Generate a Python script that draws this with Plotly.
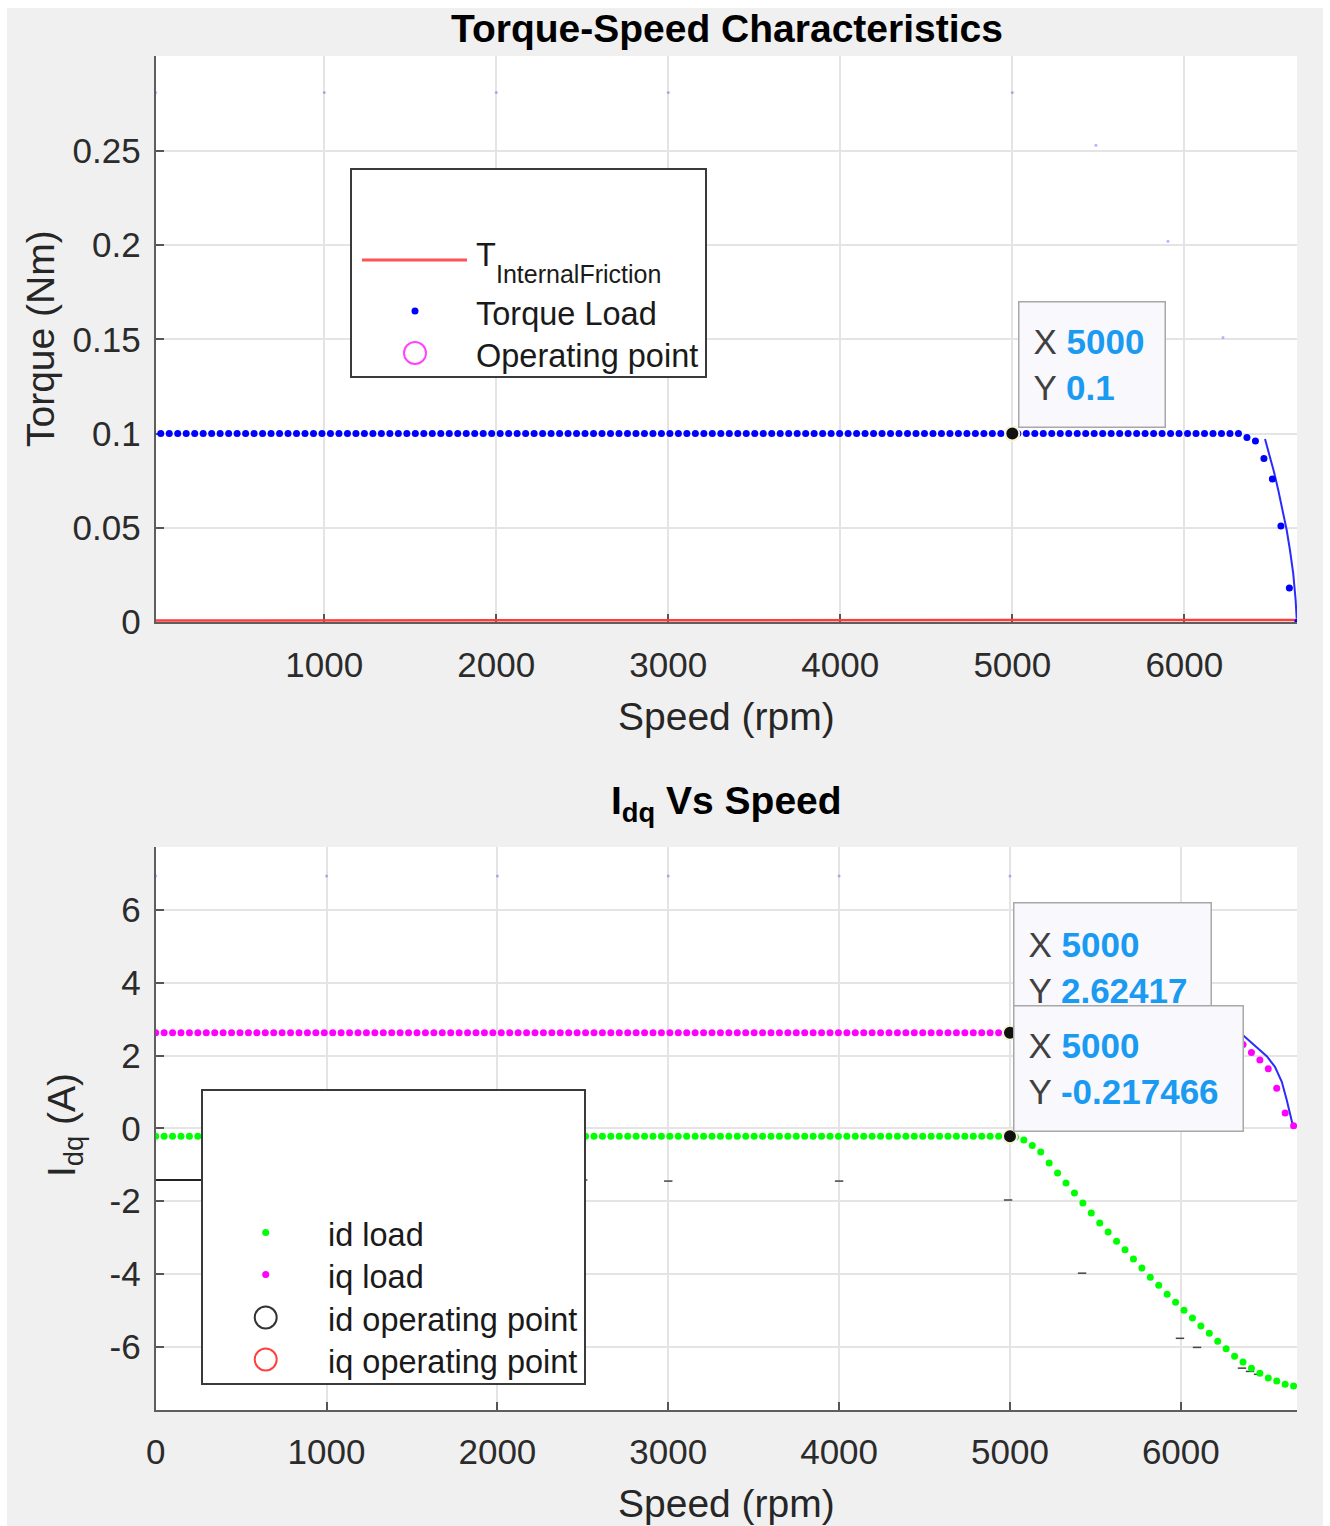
import numpy as np
import plotly.graph_objects as go

W, H = 1330, 1526
FONT = "Liberation Sans, Arial, Helvetica, sans-serif"

# ---------------- data ----------------
# speed sweep shared by both subplots (rpm)
speed_rpm = np.linspace(0, 6660, 136)

# torque-speed characteristics
torque_load = [0.1] * 129 + [0.0979, 0.0960, 0.0868, 0.0759, 0.0510, 0.0180, 0.0]
friction_rpm = [20, 6655]
friction_torque = [0.0008, 0.0011]
torque_env_rpm = [6469, 6492, 6521, 6546, 6571, 6595, 6614, 6633, 6647, 6653]
torque_env = [0.0971, 0.0895, 0.0797, 0.0700, 0.0594, 0.0488, 0.0382, 0.0258, 0.0117, 0.002]
torque_trace_rpm = [20, 1000, 2000, 3000, 5000, 5486, 5905, 6225]
torque_trace = [0.281, 0.281, 0.281, 0.281, 0.281, 0.253, 0.202, 0.151]
op_speed = 5000
op_torque = 0.1

# dq currents vs speed
iq_load = [2.62417] * 129 + [2.30, 2.08, 1.88, 1.64, 1.10, 0.42, 0.07]
id_load = ([-0.217466] * 102 + [-0.24, -0.32, -0.47]
           + [-0.65, -0.95, -1.23, -1.50, -1.78, -2.05, -2.33, -2.60, -2.85, -3.10,
              -3.34, -3.59, -3.84, -4.09, -4.31, -4.56, -4.78, -5.00, -5.21, -5.43,
              -5.63, -5.85, -6.06, -6.26, -6.42, -6.59, -6.73, -6.86, -6.94, -7.03,
              -7.08])
iq_env_rpm = [6366, 6450, 6503, 6551, 6591, 6620, 6643, 6655]
iq_env = [2.55, 2.20, 1.98, 1.69, 1.28, 0.78, 0.32, 0.09]
id_lim_rpm = [0, 2480]
id_lim = [-1.42, -1.42]
id_trace_rpm = [2502, 3000, 4000, 4989, 5422, 5995, 6095, 6358, 6405, 6452]
id_trace = [-1.42, -1.45, -1.45, -1.97, -3.98, -5.77, -6.02, -6.59, -6.68, -6.76]
iq_trace_rpm = [0, 1000, 2000, 3000, 4000, 5000]
iq_trace = [6.93, 6.93, 6.93, 6.93, 6.93, 6.93]
op_iq = 2.62417
op_id = -0.217466

x_ticks_top = [1000, 2000, 3000, 4000, 5000, 6000]
x_ticks_bot = [0, 1000, 2000, 3000, 4000, 5000, 6000]
y_ticks_top = [0, 0.05, 0.1, 0.15, 0.2, 0.25]
y_labels_top = ["0", "0.05", "0.1", "0.15", "0.2", "0.25"]
y_ticks_bot = [-6, -4, -2, 0, 2, 4, 6]
y_labels_bot = ["-6", "-4", "-2", "0", "2", "4", "6"]


def px(xp):
    return xp / W


def py(yp):
    return 1 - yp / H


fig = go.Figure()

# ---------------- top subplot ----------------
fig.add_trace(go.Scatter(x=friction_rpm, y=friction_torque, mode="lines",
                         line=dict(color="#ff3c3c", width=2.5), xaxis="x", yaxis="y"))
fig.add_trace(go.Scatter(x=torque_trace_rpm, y=torque_trace, mode="markers",
                         marker=dict(size=3, color="rgba(90,90,255,0.45)"), xaxis="x", yaxis="y"))
fig.add_trace(go.Scatter(x=torque_env_rpm, y=torque_env, mode="lines",
                         line=dict(color="#2b2bff", width=2), xaxis="x", yaxis="y"))
fig.add_trace(go.Scatter(x=speed_rpm, y=torque_load, mode="markers",
                         marker=dict(size=7, color="#0000ff"), xaxis="x", yaxis="y"))
fig.add_trace(go.Scatter(x=[op_speed], y=[op_torque], mode="markers",
                         marker=dict(size=21, color="rgba(0,0,0,0)", symbol="circle-open",
                                     line=dict(color="#ff33ff", width=2)), xaxis="x", yaxis="y"))
fig.add_trace(go.Scatter(x=[op_speed], y=[op_torque], mode="markers",
                         marker=dict(size=14, color="#111111",
                                     line=dict(color="#f6f3d6", width=2)), xaxis="x", yaxis="y"))

# ---------------- bottom subplot ----------------
fig.add_trace(go.Scatter(x=id_lim_rpm, y=id_lim, mode="lines",
                         line=dict(color="#222222", width=2), xaxis="x2", yaxis="y2"))
fig.add_trace(go.Scatter(x=id_trace_rpm, y=id_trace, mode="markers",
                         marker=dict(size=6, symbol="line-ew",
                                     line=dict(color="#444444", width=1.5)), xaxis="x2", yaxis="y2"))
fig.add_trace(go.Scatter(x=iq_trace_rpm, y=iq_trace, mode="markers",
                         marker=dict(size=3, color="rgba(90,90,255,0.45)"), xaxis="x2", yaxis="y2"))
fig.add_trace(go.Scatter(x=iq_env_rpm, y=iq_env, mode="lines",
                         line=dict(color="#2b2bff", width=2), xaxis="x2", yaxis="y2"))
fig.add_trace(go.Scatter(x=speed_rpm, y=iq_load, mode="markers",
                         marker=dict(size=7, color="#ff00ff"), xaxis="x2", yaxis="y2"))
fig.add_trace(go.Scatter(x=speed_rpm, y=id_load, mode="markers",
                         marker=dict(size=7, color="#00ff00"), xaxis="x2", yaxis="y2"))
fig.add_trace(go.Scatter(x=[op_speed, op_speed], y=[op_iq, op_id], mode="markers",
                         marker=dict(size=21, color="rgba(0,0,0,0)", symbol="circle-open",
                                     line=dict(color=["#ff4040", "#333333"], width=2)),
                         xaxis="x2", yaxis="y2"))
fig.add_trace(go.Scatter(x=[op_speed, op_speed], y=[op_iq, op_id], mode="markers",
                         marker=dict(size=14, color="#111111",
                                     line=dict(color="#f6f3d6", width=2)), xaxis="x2", yaxis="y2"))

# ---------------- axes ----------------
xdom = [px(155.7), px(1297)]
axis_common = dict(
    ticks="inside", ticklen=8, tickwidth=2, tickcolor="#555555",
    showline=True, linecolor="#5e5e5e", linewidth=2, mirror=False,
    showgrid=True, gridcolor="#e4e4e4", gridwidth=2, zeroline=False,
    tickfont=dict(family=FONT, size=35, color="#2b2b2b"),
    layer="below traces", fixedrange=True, automargin=False,
)
fig.update_layout(
    xaxis=dict(domain=xdom, range=[20, 6655], tickvals=x_ticks_top, anchor="y",
               ticklabelstandoff=11, **axis_common),
    yaxis=dict(domain=[py(622), py(56)], range=[0, 0.3003], tickvals=y_ticks_top,
               ticktext=y_labels_top, anchor="x", ticklabelstandoff=6, **axis_common),
    xaxis2=dict(domain=xdom, range=[0, 6680], tickvals=x_ticks_bot, anchor="y2",
                ticklabelstandoff=10, **axis_common),
    yaxis2=dict(domain=[py(1410), py(847)], range=[-7.74, 7.73], tickvals=y_ticks_bot,
                ticktext=y_labels_bot, anchor="x2", ticklabelstandoff=6, **axis_common),
)

shapes = []
# white frame around the grey figure background
for (x0, y0, x1, y1) in [(0, 0, W, 8), (0, 0, 7, H), (1323, 0, W, H)]:
    shapes.append(dict(type="rect", xref="paper", yref="paper", layer="above",
                       x0=px(x0), x1=px(x1), y0=py(y1), y1=py(y0),
                       fillcolor="white", line=dict(width=0)))


def legend_box(x0, y0, x1, y1):
    shapes.append(dict(type="rect", xref="paper", yref="paper", layer="above",
                       x0=px(x0), x1=px(x1), y0=py(y1), y1=py(y0),
                       fillcolor="white", line=dict(color="#3a3a3a", width=2)))


def legend_marker(cx, cy, d, fill, edge, lw):
    shapes.append(dict(type="circle", xref="paper", yref="paper", layer="above",
                       xsizemode="pixel", ysizemode="pixel",
                       xanchor=px(cx), yanchor=py(cy),
                       x0=-d / 2, x1=d / 2, y0=-d / 2, y1=d / 2,
                       fillcolor=fill, line=dict(color=edge, width=lw)))


# top legend
legend_box(351, 169, 706, 377)
shapes.append(dict(type="line", xref="paper", yref="paper", layer="above",
                   x0=px(362), x1=px(467), y0=py(260), y1=py(260),
                   line=dict(color="#ff5252", width=3)))
legend_marker(415, 311, 7, "#0000ff", "#0000ff", 0)
legend_marker(415, 353, 22, "rgba(0,0,0,0)", "#ff44ff", 2)

# bottom legend
legend_box(202, 1090, 585, 1384)
legend_marker(265.7, 1232.5, 7, "#00ff00", "#00ff00", 0)
legend_marker(265.7, 1274.5, 7, "#ff00ff", "#ff00ff", 0)
legend_marker(265.7, 1317.5, 22, "rgba(0,0,0,0)", "#333333", 2)
legend_marker(265.7, 1359.5, 22, "rgba(0,0,0,0)", "#ff4040", 2)

annotations = []


def label(text, x, y, size, color="#262626", xanchor="center", yanchor="middle", angle=0):
    annotations.append(dict(text=text, x=px(x), y=py(y), xref="paper", yref="paper",
                            xanchor=xanchor, yanchor=yanchor, showarrow=False,
                            textangle=angle,
                            font=dict(family=FONT, size=size, color=color)))


# titles and axis labels
label("<b>Torque-Speed Characteristics</b>", 727, 28, 39, color="#000000")
label("<b>I<sub>dq</sub> Vs Speed</b>", 726, 803, 39, color="#000000")
label("Speed (rpm)", 726, 716, 39)
label("Speed (rpm)", 726, 1503, 39)
label("Torque (Nm)", 40, 339, 39, angle=-90)
label("I<sub>dq</sub> (A)", 64, 1125, 39, angle=-90)

# legend text
label("T", 474, 255, 32.5, color="#1a1a1a", xanchor="left")
label("InternalFriction", 494, 274, 25, color="#1a1a1a", xanchor="left")
label("Torque Load", 474, 314, 32.5, color="#1a1a1a", xanchor="left")
label("Operating point", 474, 356, 32.5, color="#1a1a1a", xanchor="left")
label("id load", 326, 1235, 32.5, color="#1a1a1a", xanchor="left")
label("iq load", 326, 1277, 32.5, color="#1a1a1a", xanchor="left")
label("id operating point", 326, 1320, 32.5, color="#1a1a1a", xanchor="left")
label("iq operating point", 326, 1362, 32.5, color="#1a1a1a", xanchor="left")

# data tips
VAL = "#1a9af0"


def datatip(xv, yv, x0, y0, x1, y1):
    text = ("X <span style='color:%s'><b>%s</b></span><br>Y <span style='color:%s'><b>%s</b></span>"
            % (VAL, xv, VAL, yv))
    pad = 14
    bw = 1.5
    annotations.append(dict(text=text, x=px(x0), y=py(y0), xref="paper", yref="paper",
                            xanchor="left", yanchor="top", showarrow=False, align="left",
                            valign="middle", width=x1 - x0 - 2 * pad - 2 * bw,
                            height=y1 - y0 - 2 * pad - 2 * bw, borderpad=pad,
                            bgcolor="#f8f8fd", bordercolor="#a8a8a8", borderwidth=bw,
                            font=dict(family=FONT, size=35, color="#404040")))


datatip("5000", "0.1", 1018, 301, 1166, 428)
datatip("5000", "2.62417", 1013, 902, 1212, 1033)
datatip("5000", "-0.217466", 1013, 1005, 1244, 1132)

fig.update_layout(
    width=W, height=H, margin=dict(l=0, r=0, t=0, b=0, pad=0),
    paper_bgcolor="#f0f0f0", plot_bgcolor="white",
    showlegend=False, hovermode=False,
    shapes=shapes, annotations=annotations,
    font=dict(family=FONT),
)

fig.write_html("out.html")
